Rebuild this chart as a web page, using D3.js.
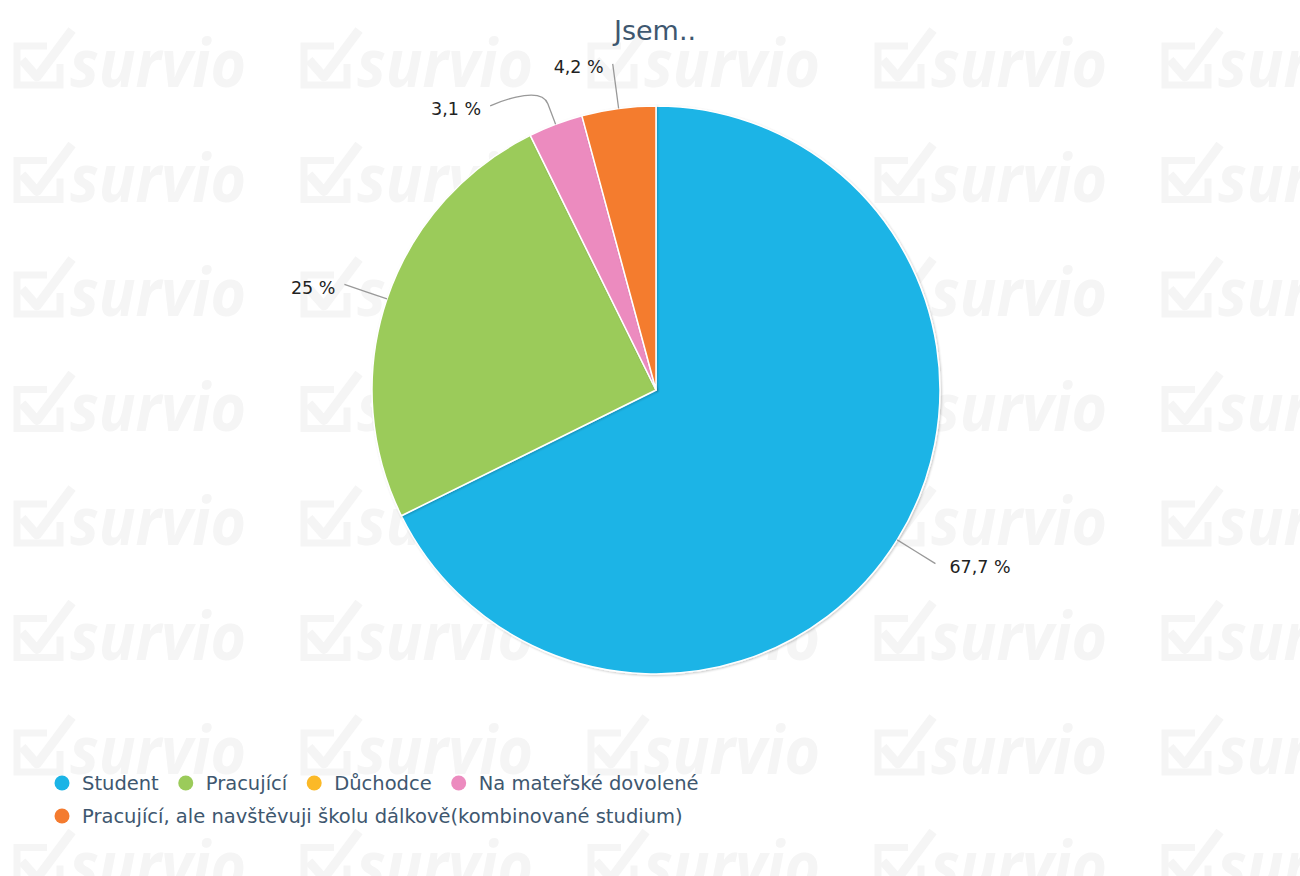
<!DOCTYPE html>
<html>
<head>
<meta charset="utf-8">
<script src="https://cdn.jsdelivr.net/npm/d3@7"></script>
<style>
  body { margin: 0; background: #fff; }
  svg { display: block; font-family: "DejaVu Sans", Verdana, sans-serif; }
</style>
</head>
<body>
<svg id="chart" width="1300" height="876"></svg>
<script>
// data
const categories = ['Student', 'Pracující', 'Důchodce', 'Na mateřské dovolené', 'Pracující, ale navštěvuji školu dálkově(kombinované studium)'];
const percents = [67.7, 25, 0, 3.1, 4.2];
const colors = ['#1bb4e6', '#9bcb5a', '#fbb927', '#ec8bbf', '#f47b2f'];
const title = 'Jsem..';

const W = 1300, H = 876;
const svg = d3.select('#chart');

// watermark tiles in the back
const wmColor = '#f5f5f5';
const wm = svg.append('g').attr('class', 'watermark');
const cols = d3.range(5), rows = d3.range(8);
rows.forEach(j => cols.forEach(i => {
    const g = wm.append('g').attr('transform', `translate(${i * 287},${j * 114.5})`);
    g.append('path')
        .attr('d', 'M47,46 H17 V85 H60 V64')
        .attr('fill', 'none').attr('stroke', wmColor).attr('stroke-width', 7);
    g.append('path')
        .attr('d', 'M22,60 L37,77 L72,30')
        .attr('fill', 'none').attr('stroke', wmColor).attr('stroke-width', 9)
        .attr('stroke-linejoin', 'round');
    g.append('text')
        .attr('x', 70).attr('y', 87)
        .attr('textLength', 176).attr('lengthAdjust', 'spacingAndGlyphs')
        .style('font-family', '"Open Sans", sans-serif')
        .style('font-weight', 'bold').style('font-style', 'italic')
        .style('font-size', '66px').attr('fill', wmColor)
        .text('survio');
}));

// title
svg.append('text')
    .attr('x', 655).attr('y', 40)
    .attr('text-anchor', 'middle')
    .style('font-size', '27px')
    .attr('fill', '#3e576f')
    .text(title);

// pie
const cx = 656, cy = 390, r = 284;
const pie = d3.pie().sort(null).value(d => d.value);
const arcs = pie(categories.map((c, i) => ({ name: c, value: percents[i], color: colors[i] })));
const arc = d3.arc().innerRadius(0).outerRadius(r);

const defs = svg.append('defs');
const f = defs.append('filter').attr('id', 'shadow').attr('x', '-10%').attr('y', '-10%').attr('width', '120%').attr('height', '120%');
f.append('feDropShadow').attr('dx', 1).attr('dy', 1).attr('stdDeviation', 1.2)
    .attr('flood-color', '#000').attr('flood-opacity', 0.22);

const pg = svg.append('g').attr('transform', `translate(${cx},${cy})`);
pg.selectAll('path.slice')
    .data(arcs.filter(d => d.value > 0))
    .join('path')
    .attr('class', 'slice')
    .attr('d', arc)
    .attr('fill', d => d.data.color)
    .attr('stroke', '#fff')
    .attr('stroke-width', 1.5)
    .attr('stroke-linejoin', 'round')
    .attr('filter', 'url(#shadow)');

// data labels with soft connectors
const labelR = r + 45, breakR = r + 22, gap = 42;
const labels = arcs.filter(d => d.value > 0).map(d => {
    const a = (d.startAngle + d.endAngle) / 2;
    return {
        d, a,
        side: Math.sin(a) >= 0 ? 1 : -1,
        y: cy - labelR * Math.cos(a),
        tx: cx + r * Math.sin(a), ty: cy - r * Math.cos(a),
        bx: cx + breakR * Math.sin(a), by: cy - breakR * Math.cos(a)
    };
});
[1, -1].forEach(s => {
    const side = labels.filter(l => l.side === s).sort((p, q) => p.y - q.y);
    for (let k = 1; k < side.length; k++) {
        if (side[k].y - side[k - 1].y < gap) side[k].y = side[k - 1].y + gap;
    }
});
labels.forEach(l => {
    const dy = l.y - cy;
    l.x = cx + l.side * Math.sqrt(Math.max(0, labelR * labelR - dy * dy));
});

const lg = svg.append('g');
lg.selectAll('path.conn')
    .data(labels)
    .join('path')
    .attr('class', 'conn')
    .attr('fill', 'none')
    .attr('stroke', '#999')
    .attr('stroke-width', 1.3)
    .attr('d', l => `M${l.x},${l.y} C${l.x},${l.y} ${2 * l.bx - l.tx},${2 * l.by - l.ty} ${l.bx},${l.by} L${l.tx},${l.ty}`);

const fmt = v => String(v).replace('.', ',') + ' %';
lg.selectAll('text.lbl')
    .data(labels)
    .join('text')
    .attr('class', 'lbl')
    .attr('x', l => l.x + l.side * (l.side > 0 ? 14 : 9))
    .attr('y', l => l.y + 3)
    .attr('dy', '0.36em')
    .attr('text-anchor', l => l.side > 0 ? 'start' : 'end')
    .style('font-size', '17.5px')
    .attr('fill', '#222')
    .text(l => fmt(l.d.value));

// legend
const legend = svg.append('g');
let lx = 62, ly = 783;
categories.forEach((c, i) => {
    const item = legend.append('g');
    const t = item.append('text')
        .attr('x', 20).attr('dy', '0.36em')
        .style('font-size', '19.5px')
        .attr('fill', '#3e576f')
        .text(c);
    const w = 20 + t.node().getComputedTextLength();
    if (lx > 62 && lx + w > W - 40) { lx = 62; ly += 33; }
    item.attr('transform', `translate(${lx},${ly})`);
    item.insert('circle', 'text').attr('r', 7.5).attr('fill', colors[i]);
    lx += w + 27;
});
</script>
</body>
</html>
